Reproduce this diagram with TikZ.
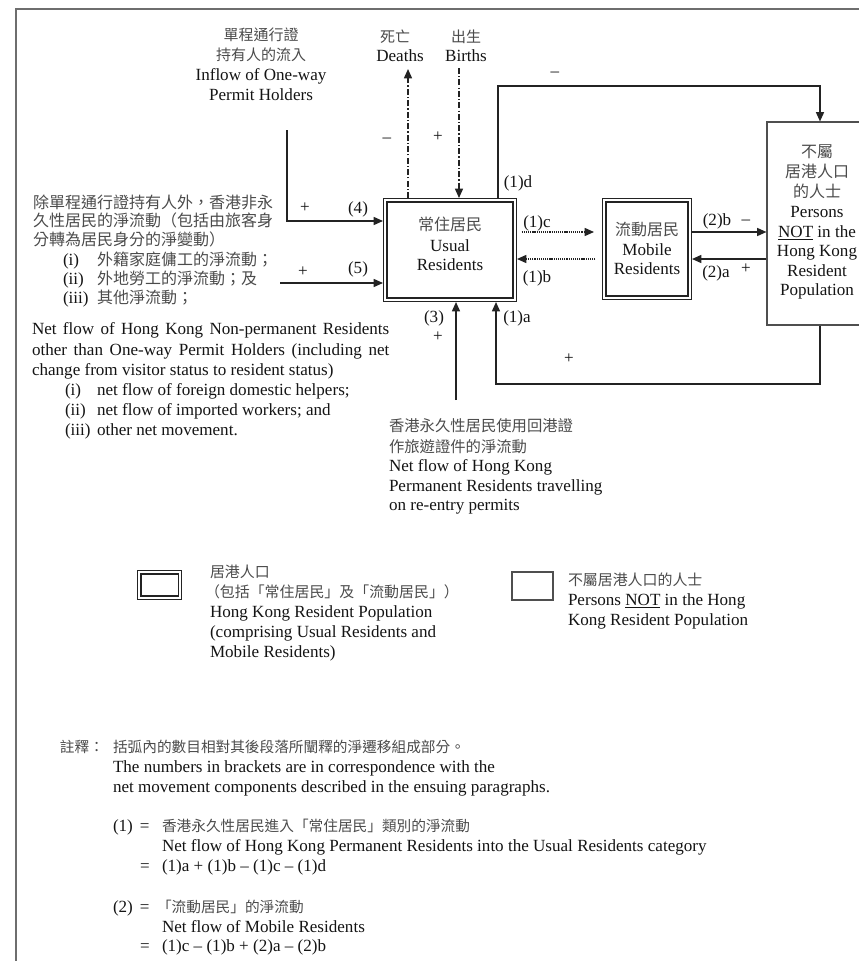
\documentclass[tikz,border=0pt]{standalone}
\usepackage{fontspec}
\setmainfont{Liberation Serif}
\newfontfamily\cjk{Noto Sans CJK TC}
\usetikzlibrary{arrows.meta}
\definecolor{zhc}{RGB}{75,75,75}
\definecolor{lnc}{RGB}{35,35,35}
\definecolor{frc}{RGB}{110,110,110}
\newcommand\zh[1]{{\cjk\color{zhc}\fontsize{12}{15}\selectfont #1}}
\newcommand\LW[4]{\node[anchor=base west] (#1) at (#2,#3) {#4};}
\newcommand\LC[4]{\node[anchor=base] (#1) at (#2,#3) {#4};}
\begin{document}
\begin{tikzpicture}[x=0.75pt,y=-0.75pt,
  every node/.style={inner sep=0pt, outer sep=0pt, text=black!92, font=\fontsize{12.8}{15}\selectfont},
  arr/.style={draw=lnc, line width=1.1pt, -{Triangle[length=7pt,width=6pt]}},
  ddarr/.style={draw=lnc, line width=1.1pt, dash pattern=on 4.5pt off 1.6pt on 0.9pt off 1.6pt, -{Triangle[length=7pt,width=6pt]}},
  dotarr/.style={draw=lnc, line width=1.1pt, dash pattern=on 0.9pt off 0.7pt, -{Triangle[length=7pt,width=6pt]}},
  dbox/.style={draw=lnc, line width=0.8pt, double=white, double distance=1.8pt, outer sep=1.7pt},
  sbox/.style={draw=lnc!80, line width=0.8pt, outer sep=0.4pt},
  frameline/.style={draw=frc, line width=1.1pt}
]
\useasboundingbox (0,0) rectangle (858,961);
% frame
\draw[frameline] (880,9) -- (16,9) -- (16,980);

% boxes
\node[dbox, minimum width=97.1pt, minimum height=74.6pt] (usual) at (450,250) {};
\node[dbox, minimum width=64.1pt, minimum height=73.1pt] (mobile) at (647,249) {};
\node[sbox, minimum width=75pt, minimum height=152.25pt] (persons) at (817,223.5) {};

% box texts
\LC{u1}{450}{230}{\zh{常住居民}}
\LC{u2}{450}{251}{Usual}
\LC{u3}{450}{270}{Residents}
\LC{m1}{647}{235}{\zh{流動居民}}
\LC{m2}{647}{255}{Mobile}
\LC{m3}{647}{274}{Residents}
\LC{n1}{817}{157}{\zh{不屬}}
\LC{n2}{817}{177}{\zh{居港人口}}
\LC{n3}{817}{197}{\zh{的人士}}
\LC{n4}{817}{217}{Persons}
\LC{n5}{817}{237}{\underline{NOT} in the}
\LC{n6}{817}{256}{Hong Kong}
\LC{n7}{817}{276}{Resident}
\LC{n8}{817}{295}{Population}

% top labels
\LC{ow1}{261}{40}{\zh{\fontsize{11.25}{15}\selectfont 單程通行證}}
\LC{ow2}{261}{60}{\zh{\fontsize{11.25}{15}\selectfont 持有人的流入}}
\LC{ow3}{261}{80}{Inflow of One-way}
\LC{ow4}{261}{100}{Permit Holders}
\LC{de1}{395}{42}{\zh{\fontsize{11.25}{15}\selectfont 死亡}}
\LC{de2}{400}{61}{Deaths}
\LC{bi1}{466}{42}{\zh{\fontsize{11.25}{15}\selectfont 出生}}
\LC{bi2}{466}{61}{Births}

% connectors
\coordinate (p4) at (287,130);
\coordinate (y4) at (0,221);
\draw[arr] (p4) |- (y4 -| usual.west);
\coordinate (p5) at (280,283);
\draw[arr] (p5) -- (p5 -| usual.west);
\coordinate (dt) at (408,69);
\draw[ddarr] (dt |- usual.north) -- (dt);
\coordinate (bt) at (459,68);
\draw[ddarr] (bt) -- (bt |- usual.north);
\coordinate (d1) at (498,86);
\coordinate (d2) at (820,86);
\draw[arr] (d1 |- usual.north) -- (d1) -- (d2) -- (d2 |- persons.north);
\coordinate (a1) at (820,384);
\coordinate (a2) at (496,384);
\draw[arr] (a1 |- persons.south) -- (a1) -- (a2) -- (a2 |- usual.south);
\coordinate (p3) at (456,400);
\draw[arr] (p3) -- (p3 |- usual.south);
\coordinate (yc) at (0,232);
\coordinate (yb) at (0,259);
\draw[dotarr, shorten <=3.5pt, shorten >=6pt] (yc -| usual.east) -- (yc -| mobile.west);
\draw[dotarr, shorten <=5pt] (yb -| mobile.west) -- (yb -| usual.east);
\draw[arr] (yc -| mobile.east) -- (yc -| persons.west);
\draw[arr] (yb -| persons.west) -- (yb -| mobile.east);

% connector labels
\LC{l1d}{518}{187}{(1)d}
\LC{l1c}{537}{227}{(1)c}
\LC{l1b}{537}{282}{(1)b}
\LC{l1a}{517}{322}{(1)a}
\LC{l3}{434}{322}{(3)}
\LC{s3}{438}{341}{+}
\LC{sa}{569}{363}{+}
\LC{sd}{555}{76}{–}
\LC{l2b}{717}{225}{(2)b}
\LC{s2b}{746}{224}{–}
\LC{l2a}{716}{277}{(2)a}
\LC{s2a}{746}{273}{+}
\LC{l4}{358}{213}{(4)}
\LC{s4}{305}{212}{+}
\LC{l5}{358}{273}{(5)}
\LC{s5}{303}{276}{+}
\LC{sde}{387}{142}{–}
\LC{sbi}{438}{141}{+}

% left text block
\LW{c1}{33}{208}{\zh{除單程通行證持有人外，香港非永}}
\LW{c2}{33}{226}{\zh{久性居民的淨流動（包括由旅客身}}
\LW{c3}{33}{245}{\zh{分轉為居民身分的淨變動）}}
\LW{c4a}{63}{265}{(i)}
\LW{c4}{97}{265}{\zh{外籍家庭傭工的淨流動；}}
\LW{c5a}{63}{284}{(ii)}
\LW{c5}{97}{284}{\zh{外地勞工的淨流動；及}}
\LW{c6a}{63}{303}{(iii)}
\LW{c6}{97}{303}{\zh{其他淨流動；}}
\LW{e1}{32}{334}{\makebox[268pt][s]{Net flow of Hong Kong Non-permanent Residents}}
\LW{e2}{32}{355}{\makebox[268pt][s]{other than One-way Permit Holders (including net}}
\LW{e3}{32}{375}{change from visitor status to resident status)}
\LW{e4a}{65}{395}{(i)}
\LW{e4}{97}{395}{net flow of foreign domestic helpers;}
\LW{e5a}{65}{415}{(ii)}
\LW{e5}{97}{415}{net flow of imported workers; and}
\LW{e6a}{65}{435}{(iii)}
\LW{e6}{97}{435}{other net movement.}

% (3) label
\LW{r1}{389}{431}{\zh{\fontsize{11.5}{15}\selectfont 香港永久性居民使用回港證}}
\LW{r2}{389}{452}{\zh{\fontsize{11.5}{15}\selectfont 作旅遊證件的淨流動}}
\LW{r3}{389}{471}{Net flow of Hong Kong}
\LW{r4}{389}{491}{Permanent Residents travelling}
\LW{r5}{389}{510}{on re-entry permits}

% legend
\node[dbox, minimum width=30.4pt, minimum height=19.1pt] (lgd) at (159.5,585) {};
\node[sbox, minimum width=30.75pt, minimum height=21pt] (lgs) at (532.5,586) {};
\LW{g1}{210}{577}{\zh{\fontsize{11.2}{14}\selectfont 居港人口}}
\LW{g2}{205}{597}{\zh{\fontsize{11.2}{14}\selectfont （包括「常住居民」及「流動居民」）}}
\LW{g3}{210}{617}{Hong Kong Resident Population}
\LW{g4}{210}{637}{(comprising Usual Residents and}
\LW{g5}{210}{657}{Mobile Residents)}
\LW{h1}{568}{585}{\zh{\fontsize{11.2}{14}\selectfont 不屬居港人口的人士}}
\LW{h2}{568}{605}{Persons \underline{NOT} in the Hong}
\LW{h3}{568}{625}{Kong Resident Population}

% notes
\LW{k0}{60}{752}{\zh{\fontsize{11}{14}\selectfont 註釋：}}
\LW{k1}{113}{752}{\zh{\fontsize{11}{14}\selectfont 括弧內的數目相對其後段落所闡釋的淨遷移組成部分。}}
\LW{k2}{113}{772}{The numbers in brackets are in correspondence with the}
\LW{k3}{113}{792}{net movement components described in the ensuing paragraphs.}
\LW{k4}{113}{831}{(1) \,=}
\LW{k5}{162}{831}{\zh{\fontsize{11}{14}\selectfont 香港永久性居民進入「常住居民」類別的淨流動}}
\LW{k6}{162}{851}{Net flow of Hong Kong Permanent Residents into the Usual Residents category}
\LW{k7}{140}{871}{=}
\LW{k8}{162}{871}{(1)a + (1)b – (1)c – (1)d}
\LW{k9}{113}{912}{(2) \,=}
\LW{k10}{157}{912}{\zh{\fontsize{11}{14}\selectfont 「流動居民」的淨流動}}
\LW{k11}{162}{932}{Net flow of Mobile Residents}
\LW{k12}{140}{951}{=}
\LW{k13}{162}{951}{(1)c – (1)b + (2)a – (2)b}
\end{tikzpicture}
\end{document}
